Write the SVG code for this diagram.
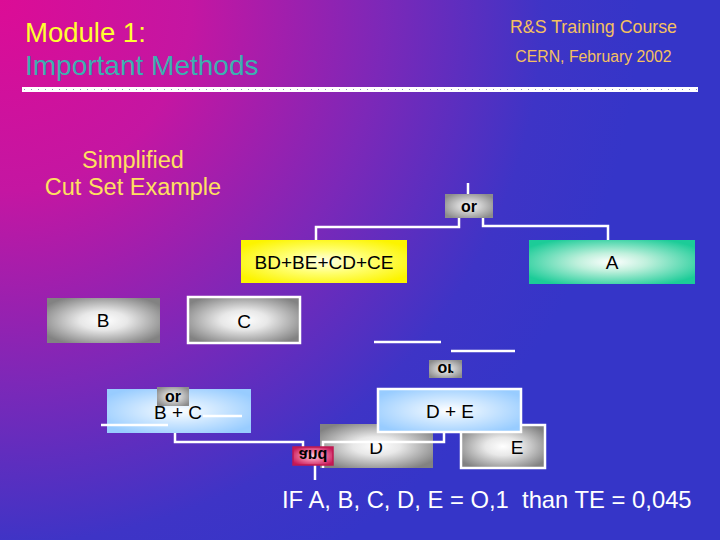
<svg xmlns="http://www.w3.org/2000/svg" width="720" height="540" viewBox="0 0 720 540">
<defs>
<radialGradient id="bg" gradientUnits="userSpaceOnUse" cx="0" cy="0" r="640">
<stop offset="0" stop-color="#dc0c96"/>
<stop offset="0.3" stop-color="#c416a2"/>
<stop offset="0.6" stop-color="#7c28b8"/>
<stop offset="0.85" stop-color="#3e34c6"/>
<stop offset="1" stop-color="#3535c8"/>
</radialGradient>
<radialGradient id="gray" cx="0.5" cy="0.5" r="0.6">
<stop offset="0" stop-color="#ffffff"/>
<stop offset="0.35" stop-color="#e8e8e8"/>
<stop offset="1" stop-color="#828282"/>
</radialGradient>
<radialGradient id="yel" cx="0.5" cy="0.5" r="0.6">
<stop offset="0" stop-color="#ffffe8"/>
<stop offset="0.45" stop-color="#ffff70"/>
<stop offset="1" stop-color="#fcf400"/>
</radialGradient>
<radialGradient id="teal" cx="0.5" cy="0.5" r="0.6">
<stop offset="0" stop-color="#ffffff"/>
<stop offset="0.35" stop-color="#bff0dc"/>
<stop offset="1" stop-color="#1ccc98"/>
</radialGradient>
<radialGradient id="blue" cx="0.5" cy="0.5" r="0.6">
<stop offset="0" stop-color="#ffffff"/>
<stop offset="0.35" stop-color="#d8ecff"/>
<stop offset="1" stop-color="#98ccff"/>
</radialGradient>
<radialGradient id="pink" cx="0.5" cy="0.5" r="0.6">
<stop offset="0" stop-color="#ffd0e0"/>
<stop offset="0.4" stop-color="#f080a8"/>
<stop offset="1" stop-color="#c81858"/>
</radialGradient>
<radialGradient id="gate" cx="0.5" cy="0.5" r="0.6">
<stop offset="0" stop-color="#f4f4f4"/>
<stop offset="0.4" stop-color="#d0d0d0"/>
<stop offset="1" stop-color="#8c8c8c"/>
</radialGradient>
</defs>
<style>
text{font-family:"Liberation Sans",Arial,sans-serif}
.lbl{font-size:19px;fill:#000;text-anchor:middle}
.g{font-size:16px;font-weight:bold;fill:#000;text-anchor:middle}
.w{fill:none;stroke:#ffffff;stroke-width:2.5}
.wb{stroke:#ffffff;stroke-width:2.5}
</style>
<rect width="720" height="540" fill="url(#bg)"/>
<g id="header">
<text x="25" y="42" font-size="27.5" fill="#ffff30">Module 1:</text>
<text x="25" y="75" font-size="28" fill="#3cb0b0">Important Methods</text>
<text x="593.5" y="33" font-size="17.8" fill="#f4c060" text-anchor="middle">R&amp;S Training Course</text>
<text x="593.5" y="62" font-size="15.8" fill="#f4c060" text-anchor="middle">CERN, February 2002</text>
<rect x="22" y="87" width="676" height="5" fill="#ffffff"/>
<line x1="24" y1="89.5" x2="698" y2="89.5" stroke="#9090b8" stroke-width="1" stroke-dasharray="1 6"/>
</g>
<g id="title">
<text x="133" y="168" font-size="23.5" fill="#ffe060" text-anchor="middle">Simplified</text>
<text x="133" y="195" font-size="23.5" fill="#ffe060" text-anchor="middle">Cut Set Example</text>
</g>
<g id="node-or-top">
<rect x="445" y="194" width="48" height="24" fill="url(#gate)"/>
<text class="g" x="469" y="212">or</text>
</g>
<g id="node-bdbe">
<rect x="241" y="240" width="166" height="43" fill="url(#yel)"/>
<text class="lbl" x="324" y="269" font-size="20.5">BD+BE+CD+CE</text>
</g>
<g id="node-a">
<rect x="529" y="240" width="166" height="44" fill="url(#teal)"/>
<text class="lbl" x="612" y="269" font-size="20">A</text>
</g>
<g id="node-b">
<rect x="47" y="298" width="113" height="45" fill="url(#gray)"/>
<text class="lbl" x="103" y="327">B</text>
</g>
<g id="node-c">
<rect x="188" y="297" width="112" height="46" fill="url(#gray)" class="wb"/>
<text class="lbl" x="244" y="328">C</text>
</g>
<g id="node-or-flipped">
<rect x="429" y="360" width="33" height="18" fill="url(#gate)"/>
<text class="g" font-size="15" transform="translate(445.5,369) scale(1,-1)" x="0" y="5">or</text>
</g>
<g id="node-bc">
<rect x="107" y="389" width="144" height="44" fill="url(#blue)"/>
<text class="lbl" x="178" y="419">B + C</text>
</g>
<g id="node-or-bc">
<rect x="157" y="387" width="32" height="19" fill="url(#gate)"/>
<text class="g" x="173" y="402">or</text>
</g>
<g id="node-d">
<rect x="320" y="424" width="113" height="44" fill="url(#gray)"/>
<text class="lbl" x="376" y="454">D</text>
</g>
<g id="node-e">
<rect x="461" y="425" width="84" height="43" fill="url(#gray)" class="wb"/>
<text class="lbl" x="517" y="454">E</text>
</g>
<g id="node-de">
<rect x="378" y="389" width="143" height="43" fill="url(#blue)" class="wb"/>
<text class="lbl" x="450" y="418">D + E</text>
</g>
<g id="connectors">
<line class="w" x1="468" y1="183" x2="468" y2="194"/>
<polyline class="w" points="459,218 459,227 316,227 316,240"/>
<polyline class="w" points="483,218 483,226 608,226 608,240"/>
<line class="w" x1="374" y1="342" x2="441" y2="342"/>
<line class="w" x1="451" y1="351" x2="515" y2="351"/>
<line class="w" x1="101" y1="425" x2="168" y2="425"/>
<line class="w" x1="203" y1="416" x2="242" y2="416"/>
<polyline class="w" points="175,433 175,442 303,442 303,448"/>
<polyline class="w" points="444,432 444,442 323,442 323,468"/>
<line class="w" x1="315" y1="465" x2="315" y2="480"/>
</g>
<g id="node-and">
<rect x="293" y="447" width="40" height="18" fill="url(#pink)" stroke="#c01850" stroke-width="1.5"/>
<text class="g" font-size="15" transform="translate(313,456) scale(1,-1)" x="0" y="6">and</text>
</g>
<g id="result">
<text x="282" y="508" font-size="23.8" fill="#ffffff" xml:space="preserve">IF A, B, C, D, E = O,1  than TE = 0,045</text>
</g>
</svg>
